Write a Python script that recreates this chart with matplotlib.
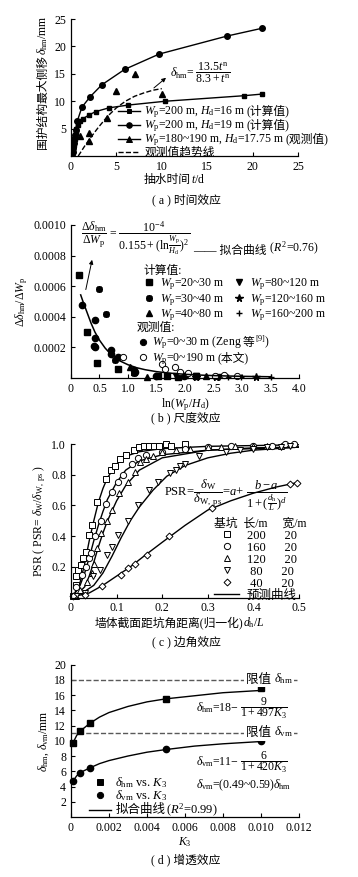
import matplotlib
matplotlib.use("Agg")
import matplotlib.pyplot as plt
from matplotlib.lines import Line2D
from matplotlib.offsetbox import AnchoredOffsetbox, HPacker, VPacker, TextArea, DrawingArea

plt.rcParams['font.family'] = ['Liberation Serif', 'Noto Sans CJK SC']
plt.rcParams['mathtext.fontset'] = 'custom'
plt.rcParams['mathtext.rm'] = 'Liberation Serif'
plt.rcParams['mathtext.it'] = 'Liberation Serif:italic'
plt.rcParams['mathtext.bf'] = 'Liberation Serif:bold'
plt.rcParams['font.size'] = 8.5
plt.rcParams['axes.unicode_minus'] = False
plt.rcParams['xtick.direction'] = 'in'
plt.rcParams['ytick.direction'] = 'in'
plt.rcParams['xtick.major.size'] = 3
plt.rcParams['ytick.major.size'] = 3
plt.rcParams['axes.linewidth'] = 0.9

# (a) 时间效应
a_sq_t = [0.1, 0.15, 0.2, 0.25, 0.3, 0.35, 0.4, 0.45, 0.5, 0.6, 0.75, 1.0, 1.3, 2.0, 2.7, 4.2, 6.3, 10.4, 19.0, 21.0]
a_sq_d = [0.2, 0.6, 1.0, 1.5, 2.0, 2.6, 3.1, 3.7, 4.3, 5.0, 5.6, 6.4, 6.8, 7.5, 8.1, 8.8, 9.3, 10.0, 11.0, 11.3]
a_ci_t = [0.12, 0.18, 0.24, 0.3, 0.36, 0.42, 0.5, 0.7, 1.2, 2.1, 3.4, 5.9, 9.7, 17.2, 21.0]
a_ci_d = [0.3, 0.8, 1.5, 2.3, 3.1, 3.9, 4.8, 6.4, 8.9, 10.8, 13.0, 15.8, 18.6, 21.9, 23.3]
a_tr_t = [1.0, 2.0, 2.0, 4.0, 5.0, 7.0, 10.0]
a_tr_d = [3.6, 4.2, 2.8, 6.9, 11.8, 15.0, 11.3]
a_trend_t = [0.8, 1.5, 2.0, 3.0, 4.0, 5.0, 6.0, 7.0, 8.0, 9.0, 10.0]
a_trend_d = [0.0, 1.8, 3.0, 5.2, 7.2, 8.8, 10.0, 10.9, 11.5, 12.0, 12.3]

# (b) 尺度效应
b_sq_x = [0.14, 0.28, 0.45, 0.83, 1.52, 1.69, 1.87, 2.2]
b_sq_y = [0.00067, 0.0003, 0.0001, 0.00006, 0.00001, 0.00001, 0.000008, 0.00001]
b_ast_x = [0.49, 0.61, 0.78, 1.1]
b_ast_y = [0.00058, 0.00042, 0.00012, 0.00003]
b_tri_x = [1.03, 1.1, 1.33, 2.0, 2.36]
b_tri_y = [0.00007, 0.00004, 0.000005, 0.00002, 0.00001]
b_inv_x = [1.85, 2.2, 2.6]
b_inv_y = [0.00001, 0.00001, 0.000005]
b_star_x = [2.2, 2.55, 3.24]
b_star_y = [0.000008, 0.000005, 0.000008]
b_plus_x = [2.2, 2.75, 2.98, 3.5]
b_plus_y = [0.00001, 0.000005, 0.000005, 0.000005]
b_zeng_x = [0.2, 0.42, 0.42, 0.41, 0.42, 0.71, 0.71, 0.82, 1.11, 1.12, 1.5, 1.98]
b_zeng_y = [0.00048, 0.00038, 0.00026, 0.00021, 0.0002, 0.00018, 0.00016, 0.00014, 0.00005, 0.00004, 0.00001, 0.00001]
b_obs_x = [0.92, 1.59, 1.65, 1.83, 1.92, 2.06, 2.53, 2.68, 2.91]
b_obs_y = [0.000135, 0.00009, 0.00006, 0.00007, 0.00004, 0.000035, 0.000013, 0.00002, 0.000015]
b_fit_x = [0.17, 0.21, 0.25, 0.3, 0.35, 0.42, 0.5, 0.6, 0.7, 0.85, 1.0, 1.15, 1.3, 1.5, 1.7, 2.0, 2.2, 2.5, 2.8, 3.1, 3.5]
b_fit_y = [0.000543, 0.0005, 0.00046, 0.00041, 0.00036, 0.0003, 0.000247, 0.000195, 0.000155, 0.000113, 0.0000866, 0.0000673, 0.0000542, 0.0000414, 0.0000328, 0.0000240, 0.0000200, 0.0000156, 0.0000125, 0.0000103, 0.0000081]

# (c) 边角效应
c_200_x = [0.005, 0.011, 0.011, 0.016, 0.022, 0.027, 0.032, 0.039, 0.045, 0.058, 0.077, 0.088, 0.096, 0.107, 0.12, 0.138, 0.149, 0.16, 0.171, 0.182, 0.193, 0.208, 0.22, 0.25]
c_200_y = [0.01, 0.08, 0.14, 0.18, 0.21, 0.26, 0.30, 0.41, 0.47, 0.62, 0.77, 0.83, 0.86, 0.90, 0.93, 0.96, 0.98, 0.99, 0.99, 0.99, 0.99, 1.0, 0.99, 1.0]
c_160_x = [0.005, 0.012, 0.025, 0.033, 0.04, 0.044, 0.053, 0.065, 0.077, 0.09, 0.102, 0.115, 0.133, 0.146, 0.165, 0.2, 0.25, 0.3, 0.35, 0.4, 0.44, 0.47, 0.49]
c_160_y = [0.01, 0.07, 0.15, 0.2, 0.26, 0.29, 0.4, 0.5, 0.61, 0.69, 0.75, 0.8, 0.87, 0.91, 0.93, 0.95, 0.97, 0.98, 0.99, 0.99, 0.99, 1.0, 1.0]
c_120_x = [0.01, 0.02, 0.035, 0.045, 0.05, 0.056, 0.066, 0.078, 0.09, 0.105, 0.126, 0.14, 0.151, 0.165, 0.18, 0.2, 0.23, 0.26, 0.3, 0.33, 0.36, 0.4, 0.43, 0.46]
c_120_y = [0.01, 0.05, 0.1, 0.16, 0.22, 0.32, 0.42, 0.5, 0.57, 0.68, 0.75, 0.82, 0.88, 0.9, 0.92, 0.95, 0.96, 0.97, 0.98, 0.98, 0.99, 0.99, 0.99, 0.99]
c_80_x = [0.01, 0.03, 0.049, 0.063, 0.08, 0.09, 0.104, 0.125, 0.148, 0.17, 0.19, 0.217, 0.23, 0.239, 0.25, 0.281, 0.34, 0.37, 0.4, 0.43, 0.46, 0.48]
c_80_y = [0.01, 0.03, 0.14, 0.18, 0.28, 0.33, 0.41, 0.5, 0.6, 0.7, 0.75, 0.81, 0.83, 0.86, 0.87, 0.92, 0.95, 0.96, 0.97, 0.98, 0.98, 0.99]
c_40_x = [0.005, 0.03, 0.067, 0.11, 0.125, 0.14, 0.166, 0.216, 0.31, 0.48, 0.495]
c_40_y = [0.01, 0.02, 0.075, 0.15, 0.19, 0.22, 0.28, 0.40, 0.585, 0.74, 0.745]
# 预测曲线
c_fit200_x = [0.005, 0.02, 0.03, 0.04, 0.05, 0.06, 0.07, 0.08, 0.1, 0.12, 0.15, 0.2, 0.3, 0.4, 0.5]
c_fit200_y = [0.01, 0.1, 0.22, 0.37, 0.5, 0.62, 0.71, 0.78, 0.87, 0.92, 0.95, 0.97, 0.985, 0.99, 0.995]
c_fit160_x = [0.005, 0.02, 0.03, 0.04, 0.05, 0.06, 0.07, 0.08, 0.1, 0.12, 0.15, 0.2, 0.3, 0.4, 0.5]
c_fit160_y = [0.01, 0.08, 0.16, 0.26, 0.37, 0.47, 0.56, 0.64, 0.75, 0.83, 0.89, 0.93, 0.96, 0.97, 0.98]
c_fit120_x = [0.01, 0.03, 0.04, 0.05, 0.06, 0.07, 0.08, 0.1, 0.12, 0.15, 0.2, 0.3, 0.4, 0.5]
c_fit120_y = [0.01, 0.07, 0.14, 0.23, 0.33, 0.42, 0.5, 0.63, 0.73, 0.83, 0.91, 0.96, 0.975, 0.98]
c_fit80_x = [0.01, 0.03, 0.05, 0.07, 0.09, 0.11, 0.13, 0.15, 0.18, 0.21, 0.25, 0.3, 0.35, 0.4, 0.5]
c_fit80_y = [0.01, 0.04, 0.08, 0.16, 0.27, 0.39, 0.5, 0.59, 0.7, 0.79, 0.86, 0.91, 0.94, 0.96, 0.98]
c_fit40_x = [0.01, 0.04, 0.07, 0.1, 0.13, 0.16, 0.2, 0.25, 0.3, 0.35, 0.4, 0.45, 0.49]
c_fit40_y = [0.01, 0.03, 0.08, 0.14, 0.2, 0.27, 0.36, 0.47, 0.57, 0.63, 0.68, 0.72, 0.745]

# (d) 增透效应
d_k = [0.0001, 0.0005, 0.001, 0.005, 0.01]
d_hm = [9.7, 11.3, 12.3, 15.5, 16.9]
d_vm = [4.7, 5.8, 6.4, 8.9, 10.0]
d_fit_k = [0.0001, 0.0003, 0.0005, 0.00075, 0.001, 0.0015, 0.002, 0.003, 0.004, 0.005, 0.0065, 0.008, 0.01]
d_fit_hm = [9.7, 10.7, 11.3, 11.8, 12.3, 13.1, 13.7, 14.5, 15.1, 15.5, 15.9, 16.3, 16.6]
d_fit_vm = [4.7, 5.4, 5.85, 6.15, 6.45, 7.0, 7.4, 8.0, 8.5, 8.85, 9.3, 9.6, 9.9]
d_limit_hm = 18
d_limit_vm = 11

fig = plt.figure(figsize=(3.58, 8.77), dpi=100)


def new_axes(rect):
    ax = fig.add_axes(rect)
    ax.spines[['top', 'right']].set_visible(False)
    return ax


def tail(ax, prev, s, **kw):
    # 中文与公式分开写，接在前一段文字后面
    kw.setdefault('fontsize', 8.5)
    return ax.annotate(s, xy=(1, 0), xycoords=prev, ha='left', va='bottom',
                       annotation_clip=False, zorder=6, **kw)


def key(marker=None, ls='-', line=True, ms=4, mfc='k', mew=0.7, w=16):
    da = DrawingArea(w, 6, 0, 0.5)
    if line:
        da.add_artist(Line2D([0, w], [2.8, 2.8], color='k', lw=1, ls=ls))
    if marker:
        da.add_artist(Line2D([w / 2], [2.8], marker=marker, ms=ms, color='k', mfc=mfc,
                             mew=mew, ls='none'))
    return da


def row(handle, parts, fs=8.5):
    texts = HPacker(children=[TextArea(p, textprops=dict(fontsize=fs)) for p in parts],
                    align='baseline', pad=0, sep=0.5)
    return HPacker(children=[handle, texts], align='baseline', pad=0, sep=3)


def put_box(ax, rows, loc, anchor, sep=-1.5):
    box = VPacker(children=rows, align='left', pad=0, sep=sep)
    ab = AnchoredOffsetbox(loc=loc, child=box, bbox_to_anchor=anchor,
                           bbox_transform=ax.transAxes, frameon=False, pad=0, borderpad=0)
    ax.add_artist(ab)
    return ab


# ---- (a)
ax = new_axes([0.1983, 0.8221, 0.6341, 0.1562])
ax.plot(a_sq_t, a_sq_d, '-s', color='k', ms=3.5, lw=1)
ax.plot(a_ci_t, a_ci_d, '-o', color='k', ms=4, lw=1)
ax.plot(a_tr_t, a_tr_d, '^', color='k', ms=4.5, ls='none')
ax.plot(a_trend_t, a_trend_d, '--', color='k', lw=1)
ax.set_xlim(0, 25)
ax.set_ylim(0, 25)
ax.set_xticks([0, 5, 10, 15, 20, 25])
ax.set_yticks([5, 10, 15, 20, 25])
ax.annotate('', xy=(10.7, 14.6), xytext=(8.9, 12.1),
            arrowprops=dict(arrowstyle='-|>', lw=0.7, color='k', mutation_scale=6))
ax.text(10.9, 15.2, r"$\delta_\mathrm{hm}$= $\dfrac{13.5t^\mathrm{n}}{8.3+t^\mathrm{n}}$",
        fontsize=8.5, va='center')
rows_a = [
    row(key('s', ms=3.5), [r"$W_\mathrm{p}$=200 m, $H_\mathrm{d}$=16 m", "(计算值)"]),
    row(key('o', ms=4), [r"$W_\mathrm{p}$=200 m, $H_\mathrm{d}$=19 m", "(计算值)"]),
    row(key('^', ms=4.5), [r"$W_\mathrm{p}$=180~190 m, $H_\mathrm{d}$=17.75 m", "(观测值)"]),
    row(key(None, ls='--'), ["观测值趋势线"]),
]
put_box(ax, rows_a, 'lower left', (0.207, -0.02), sep=-1.2)
ax.text(-0.123, 0.737, "围护结构最大侧移", rotation=90, transform=ax.transAxes,
        ha='center', va='top', fontsize=8.5)
ax.text(-0.123, 0.737, r"$\delta_\mathrm{hm}$/mm", rotation=90, transform=ax.transAxes,
        ha='center', va='bottom', fontsize=8.5)
ax.text(0.529, -0.175, "抽水时间", transform=ax.transAxes, ha='right', va='center', fontsize=8.5)
ax.text(0.529, -0.175, r"$t$/d", transform=ax.transAxes, ha='left', va='center', fontsize=8.5)
fig.text(0.52, 1 - 200 / 877, "( a ) 时间效应", ha='center', va='center', fontsize=8.5)

# ---- (b)
ax = new_axes([0.1983, 0.569, 0.6369, 0.1745])
mk = dict(color='k', ls='none', clip_on=False)
ax.plot(b_sq_x, b_sq_y, 's', ms=4, **mk)
ax.plot(b_ast_x, b_ast_y, marker=(8, 2, 0), ms=5, mew=1.3, **mk)
ax.plot(b_tri_x, b_tri_y, '^', ms=4.5, **mk)
ax.plot(b_inv_x, b_inv_y, 'v', ms=4.5, **mk)
ax.plot(b_star_x, b_star_y, '*', ms=5.5, **mk)
ax.plot(b_plus_x, b_plus_y, '+', ms=5, mew=1, **mk)
ax.plot(b_zeng_x, b_zeng_y, 'o', ms=4.5, **mk)
ax.plot(b_obs_x, b_obs_y, 'o', ms=4.5, mfc='white', mew=0.7, **mk)
ax.plot(b_fit_x, b_fit_y, '-', color='k', lw=1.1)
ax.set_xlim(0, 4.0)
ax.set_ylim(0, 0.001)
ax.set_xticks([0, 0.5, 1.0, 1.5, 2.0, 2.5, 3.0, 3.5, 4.0])
ax.set_xticklabels(['0', '0.5', '1.0', '1.5', '2.0', '2.5', '3.0', '3.5', '4.0'])
ax.set_yticks([0.0002, 0.0004, 0.0006, 0.0008, 0.0010])
ax.set_yticklabels(['0.0002', '0.0004', '0.0006', '0.0008', '0.0010'])
ax.annotate('', xy=(0.38, 0.00079), xytext=(0.25, 0.00056),
            arrowprops=dict(arrowstyle='-|>', lw=0.7, color='k', mutation_scale=6))
ax.text(0.17, 0.00091,
        r"$\dfrac{\Delta\delta_\mathrm{hm}}{\Delta W_\mathrm{p}}$ = $\dfrac{10^{-4}}{0.155+(\mathrm{ln}\frac{W_\mathrm{p}}{H_\mathrm{d}})^2}$",
        fontsize=8.5, va='center')
t_fit = ax.text(2.15, 0.00083, "—— 拟合曲线", fontsize=8.5, va='center', clip_on=False)
tail(ax, t_fit, r" ($R^2$=0.76)")
h_calc = [
    Line2D([], [], color='k', marker='s', ms=4, ls='none'),
    Line2D([], [], color='k', marker=(8, 2, 0), ms=5, mew=1.3, ls='none'),
    Line2D([], [], color='k', marker='^', ms=4.5, ls='none'),
    Line2D([], [], color='k', marker='v', ms=4.5, ls='none'),
    Line2D([], [], color='k', marker='*', ms=5.5, ls='none'),
    Line2D([], [], color='k', marker='+', ms=5, mew=1, ls='none'),
]
l_calc = [r"$W_\mathrm{p}$=20~30 m", r"$W_\mathrm{p}$=30~40 m", r"$W_\mathrm{p}$=40~80 m",
          r"$W_\mathrm{p}$=80~120 m", r"$W_\mathrm{p}$=120~160 m", r"$W_\mathrm{p}$=160~200 m"]
ax.legend(h_calc, l_calc, ncol=2, title="计算值:", alignment='left', loc='upper left',
          bbox_to_anchor=(0.29, 0.775), frameon=False, borderpad=0, handlelength=1.0,
          handletextpad=0.4, labelspacing=-0.05, columnspacing=0.8, fontsize=8.5,
          title_fontsize=8.5)
rows_b = [
    TextArea("观测值:", textprops=dict(fontsize=8.5)),
    row(key('o', line=False, ms=4.5, w=8), [r"$W_\mathrm{p}$=0~30 m (Zeng", "等", r"$^{[9]}$)"]),
    row(key('o', line=False, ms=4.5, mfc='white', w=8), [r"$W_\mathrm{p}$=0~190 m", "(本文)"]),
]
put_box(ax, rows_b, 'upper left', (0.29, 0.37), sep=0)
ax.set_xlabel(r"ln($W_\mathrm{p}$/$H_\mathrm{d}$)", labelpad=1)
ax.set_ylabel(r"$\Delta\delta_\mathrm{hm}$/$\Delta W_\mathrm{p}$", labelpad=2)
fig.text(0.52, 1 - 418 / 877, "( b ) 尺度效应", ha='center', va='center', fontsize=8.5)

# ---- (c)
ax = new_axes([0.1983, 0.3186, 0.6369, 0.1751])
op = dict(color='k', ls='none', mfc='white', mew=0.7, clip_on=False)
ax.plot(c_fit200_x, c_fit200_y, '-', color='k', lw=1)
ax.plot(c_fit160_x, c_fit160_y, '-', color='k', lw=1)
ax.plot(c_fit120_x, c_fit120_y, '-', color='k', lw=1)
ax.plot(c_fit80_x, c_fit80_y, '-', color='k', lw=1)
ax.plot(c_fit40_x, c_fit40_y, '-', color='k', lw=1)
ax.plot(c_200_x, c_200_y, 's', ms=4, **op)
ax.plot(c_160_x, c_160_y, 'o', ms=4.5, **op)
ax.plot(c_120_x, c_120_y, '^', ms=4.5, **op)
ax.plot(c_80_x, c_80_y, 'v', ms=4.5, **op)
ax.plot(c_40_x, c_40_y, 'D', ms=3.5, **op)
ax.set_xlim(0, 0.5)
ax.set_ylim(0, 1.0)
ax.set_xticks([0, 0.1, 0.2, 0.3, 0.4, 0.5])
ax.set_xticklabels(['0', '0.1', '0.2', '0.3', '0.4', '0.5'])
ax.set_yticks([0.2, 0.4, 0.6, 0.8, 1.0])
ax.text(0.205, 0.665,
        r"PSR=$\dfrac{\delta_\mathrm{W}}{\delta_\mathrm{W,\ ps}}$=$a$+ $\dfrac{b-a}{1+(\frac{d_\mathrm{h}}{L})^d}$",
        fontsize=9, va='center')
h_c = [
    Line2D([], [], color='k', marker='s', ms=4, mfc='white', mew=0.7, ls='none'),
    Line2D([], [], color='k', marker='o', ms=4.5, mfc='white', mew=0.7, ls='none'),
    Line2D([], [], color='k', marker='^', ms=4.5, mfc='white', mew=0.7, ls='none'),
    Line2D([], [], color='k', marker='v', ms=4.5, mfc='white', mew=0.7, ls='none'),
    Line2D([], [], color='k', marker='D', ms=3.5, mfc='white', mew=0.7, ls='none'),
    Line2D([], [], color='k', lw=1),
]
l_c = ["200      20", "160      20", "120      20", " 80      20", " 40      20", "预测曲线"]
ax.legend(h_c, l_c, title="基坑  长/m     宽/m", alignment='left', loc='upper left',
          bbox_to_anchor=(0.6, 0.56), frameon=False, borderpad=0, handlelength=2.0,
          handletextpad=0.6, labelspacing=0.0, fontsize=9, title_fontsize=8.5)
ax.text(0.754, -0.165, "墙体截面距坑角距离(归一化)", transform=ax.transAxes, ha='right',
        va='center', fontsize=8.5)
ax.text(0.754, -0.165, r"$d_\mathrm{h}$/$L$", transform=ax.transAxes, ha='left',
        va='center', fontsize=8.5)
ax.set_ylabel(r"PSR ( PSR= $\delta_\mathrm{W}$/$\delta_\mathrm{W,\ ps}$ )", labelpad=2)
fig.text(0.52, 1 - 642 / 877, "( c ) 边角效应", ha='center', va='center', fontsize=8.5)

# ---- (d)
ax = new_axes([0.1983, 0.0684, 0.6369, 0.1739])
ax.axhline(d_limit_hm, color='0.35', ls='--', lw=1)
ax.axhline(d_limit_vm, color='0.35', ls='--', lw=1)
ax.plot(d_fit_k, d_fit_hm, '-', color='k', lw=1)
ax.plot(d_fit_k, d_fit_vm, '-', color='k', lw=1)
ax.plot(d_k, d_hm, 's', color='k', ms=4.5, ls='none', clip_on=False)
ax.plot(d_k, d_vm, 'o', color='k', ms=4.5, ls='none', clip_on=False)
ax.set_xlim(0, 0.012)
ax.set_ylim(0, 20)
ax.set_xticks([0, 0.002, 0.004, 0.006, 0.008, 0.010, 0.012])
ax.set_xticklabels(['0', '0.002', '0.004', '0.006', '0.008', '0.010', '0.012'])
ax.set_yticks([2, 4, 6, 8, 10, 12, 14, 16, 18, 20])
bb = dict(facecolor='white', edgecolor='none', pad=1)
t1 = ax.text(0.0092, d_limit_hm, "限值 ", fontsize=9, va='center', bbox=bb)
tail(ax, t1, r"$\delta_\mathrm{hm}$", fontsize=9, bbox=bb)
t2 = ax.text(0.0092, d_limit_vm, "限值 ", fontsize=9, va='center', bbox=bb)
tail(ax, t2, r"$\delta_\mathrm{vm}$", fontsize=9, bbox=bb)
ax.text(0.0066, 14.2, r"$\delta_\mathrm{hm}$=18− $\dfrac{9}{1+497K_3}$", fontsize=8.5, va='center')
ax.text(0.0066, 7.2, r"$\delta_\mathrm{vm}$=11− $\dfrac{6}{1+420K_3}$", fontsize=8.5, va='center')
ax.text(0.0066, 4.1, r"$\delta_\mathrm{vm}$=(0.49~0.59)$\delta_\mathrm{hm}$", fontsize=8.5, va='center')
rows_d = [
    row(key('s', line=False, ms=4.5), [r"$\delta_\mathrm{hm}$ vs. $K_3$"], fs=9),
    row(key('o', line=False, ms=4.5), [r"$\delta_\mathrm{vm}$ vs. $K_3$"], fs=9),
    row(key(None), ["拟合曲线", r"($R^2$=0.99)"], fs=9),
]
put_box(ax, rows_d, 'lower left', (0.079, -0.01), sep=-1.2)
ax.set_xlabel(r"$K_3$", labelpad=1)
ax.set_ylabel(r"$\delta_\mathrm{hm}$, $\delta_\mathrm{vm}$/mm", labelpad=2)
fig.text(0.52, 1 - 860 / 877, "( d ) 增透效应", ha='center', va='center', fontsize=8.5)

fig.savefig("out.png", dpi=100)
